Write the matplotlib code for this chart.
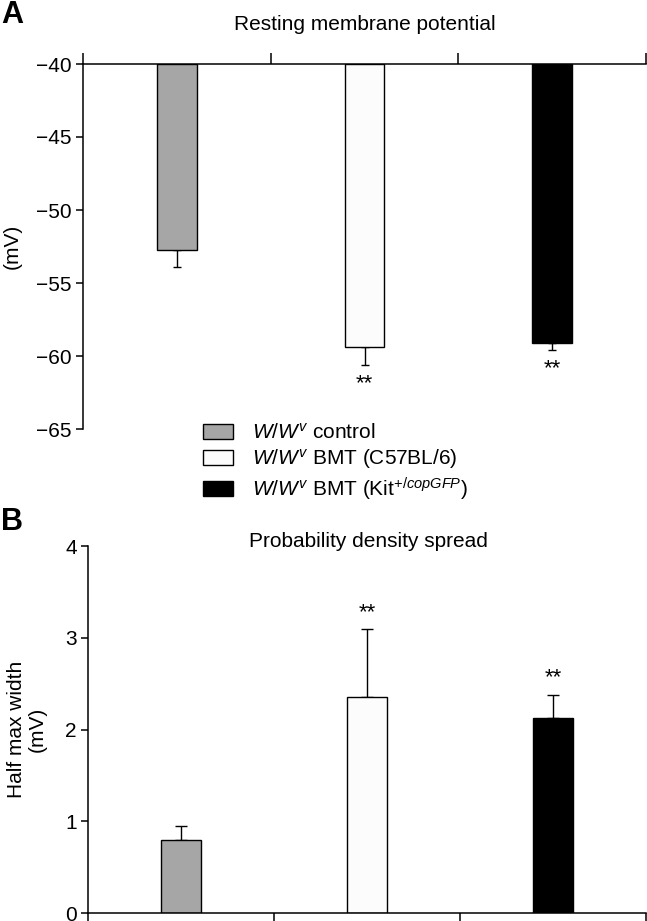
import matplotlib
matplotlib.use("Agg")
import matplotlib.pyplot as plt
from matplotlib.patches import Patch

plt.rcParams["font.family"] = ["Liberation Sans Narrow", "Liberation Sans", "DejaVu Sans"]
plt.rcParams["mathtext.fontset"] = "custom"
plt.rcParams["mathtext.rm"] = "Liberation Sans"
plt.rcParams["mathtext.it"] = "Liberation Sans:italic"

# data
groups = ["W/Wv control", "W/Wv BMT (C57BL/6)", "W/Wv BMT (Kit+/copGFP)"]
colors = ["#a6a6a6", "#fcfcfc", "#000000"]
legend_labels = [
    r"$\mathit{W/W^{v}}$ control",
    r"$\mathit{W/W^{v}}$ BMT (C57BL/6)",
    r"$\mathit{W/W^{v}}$ BMT (Kit$^{+/\mathit{copGFP}}$)",
]
rmp = [-52.75, -59.35, -59.12]
rmp_err = [1.15, 1.25, 0.47]
rmp_sig = ["", "**", "**"]
hmw = [0.80, 2.35, 2.13]
hmw_err = [0.15, 0.74, 0.25]
hmw_sig = ["", "**", "**"]

W, H = 647, 921
fig = plt.figure(figsize=(W / 100, H / 100), dpi=100)

x = range(len(groups))
bw = 0.21
lw = 1.1
fs = 15

# panel A
axA = fig.add_axes([83 / W, 1 - 429 / H, 563 / W, 365 / H])
axA.bar(x, [v + 40 for v in rmp], bottom=-40, width=bw, color=colors,
        edgecolor="black", linewidth=1.0, zorder=2)
axA.errorbar(x, rmp, yerr=[rmp_err, [0, 0, 0]], fmt="none", ecolor="black",
             elinewidth=1.0, capsize=3, capthick=1.0, zorder=1)
for i, s in enumerate(rmp_sig):
    if s:
        axA.text(i, rmp[i] - rmp_err[i] - 0.55, s, ha="center", va="top", fontsize=16)
axA.set_ylim(-65, -40)
axA.set_xlim(-0.5, 2.5)
axA.set_yticks([-40, -45, -50, -55, -60, -65])
axA.set_yticklabels(["\u221240", "\u221245", "\u221250", "\u221255", "\u221260", "\u221265"])
axA.xaxis.set_ticks_position("top")
axA.set_xticks([-0.5, 0.5, 1.5, 2.5])
axA.set_xticklabels([])
axA.spines["bottom"].set_visible(False)
axA.spines["right"].set_visible(False)
axA.spines["left"].set_linewidth(lw)
axA.spines["top"].set_linewidth(lw)
axA.tick_params(axis="y", length=5, width=lw, labelsize=fs, pad=3)
axA.tick_params(axis="x", length=8, width=lw, direction="out")
axA.set_ylabel("(mV)", fontsize=fs, va="center")
axA.yaxis.set_label_coords((12 - 83) / 563, 0.5)
fig.text(365 / W, 1 - 24 / H, "Resting membrane potential", ha="center", va="center", fontsize=fs)
fig.text(1 / W, 1 - 15 / H, "A", ha="left", va="center", fontsize=22, fontweight="bold")

handles = [Patch(facecolor=c, edgecolor="black", linewidth=1.0) for c in colors]
fig.legend(handles, legend_labels, loc="upper left", bbox_to_anchor=(203 / W, 1 - 423 / H),
           frameon=False, fontsize=fs, handlelength=1.45, handleheight=0.75,
           handletextpad=0.9, labelspacing=0.2, borderpad=0, borderaxespad=0)

# panel B
axB = fig.add_axes([88 / W, 1 - 913 / H, 558 / W, 367 / H])
axB.bar(x, hmw, width=bw, color=colors, edgecolor="black", linewidth=1.0, zorder=2)
axB.errorbar(x, hmw, yerr=[[0, 0, 0], hmw_err], fmt="none", ecolor="black",
             elinewidth=1.0, capsize=4, capthick=1.0, zorder=1)
for i, s in enumerate(hmw_sig):
    if s:
        axB.text(i, hmw[i] + hmw_err[i] + 0.07, s, ha="center", va="bottom", fontsize=16)
axB.set_ylim(0, 4)
axB.set_xlim(-0.5, 2.5)
axB.set_yticks([0, 1, 2, 3, 4])
axB.set_xticks([-0.5, 0.5, 1.5, 2.5])
axB.set_xticklabels([])
axB.spines["top"].set_visible(False)
axB.spines["right"].set_visible(False)
axB.spines["left"].set_linewidth(lw)
axB.spines["bottom"].set_linewidth(lw)
axB.tick_params(axis="y", length=5, width=lw, labelsize=fs, pad=3)
axB.tick_params(axis="x", length=8, width=lw, direction="out")
axB.set_ylabel("Half max width\n(mV)", fontsize=fs, linespacing=1.15, va="center")
axB.yaxis.set_label_coords((27 - 88) / 558, 0.5)
fig.text(368 / W, 1 - 541 / H, "Probability density spread", ha="center", va="center", fontsize=fs)
fig.text(1 / W, 1 - 522 / H, "B", ha="left", va="center", fontsize=22, fontweight="bold")

fig.savefig("out.png", dpi=100)
